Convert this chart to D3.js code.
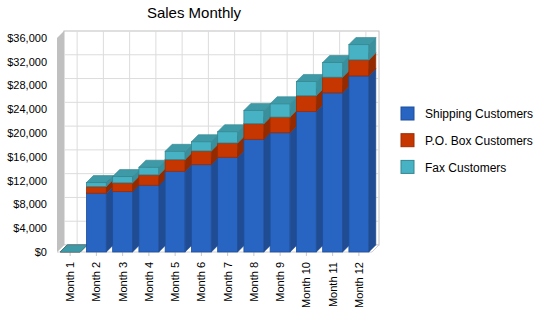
<!DOCTYPE html>
<html>
<head>
<meta charset="utf-8">
<script src="https://cdn.jsdelivr.net/npm/d3@7"></script>
<style>
  body { margin: 0; background: #fff; }
  text { font-family: "Liberation Sans", Arial, sans-serif; fill: #000; }
</style>
</head>
<body>
<svg id="chart" width="550" height="318"></svg>
<script>
// data
const months = ["Month 1", "Month 2", "Month 3", "Month 4", "Month 5", "Month 6",
  "Month 7", "Month 8", "Month 9", "Month 10", "Month 11", "Month 12"]
const shipping = [0, 9900, 10170, 11240, 13590, 14700, 15940, 18960, 20070, 23660, 26780, 29630]
const poBox = [0, 1100, 1460, 1730, 1950, 2300, 2400, 2620, 2630, 2620, 2630, 2690]
const fax = [0, 680, 1060, 1290, 1400, 1560, 1900, 2240, 2240, 2410, 2470, 2580]
const seriesNames = ["Shipping Customers", "P.O. Box Customers", "Fax Customers"]
const yTicks = [0, 4000, 8000, 12000, 16000, 20000, 24000, 28000, 32000, 36000]

const colors = [
  { front: "#2864c2", side: "#1f4c93", top: "#2a5cab", stroke: "#1d4f9c" },
  { front: "#c63600", side: "#942a00", top: "#b03000", stroke: "#a02c00" },
  { front: "#47b2c4", side: "#3a8f9c", top: "#3f9aa8", stroke: "#33868f" }
]

const svg = d3.select("#chart")
const dx = 7, dy = -7  // depth of the 3d effect

const x = d3.scaleBand()
  .domain(months)
  .range([57, 372])
  .paddingInner(0.24)
  .paddingOuter(0.12)

const y = d3.scaleLinear()
  .domain([0, 36000])
  .range([252, 38])

const x0 = 57, x1 = 372, yb = y(0), yt = y(36000)

// back wall
svg.append("rect")
  .attr("x", x0 + dx).attr("y", yt + dy)
  .attr("width", x1 - x0).attr("height", yb - yt)
  .attr("fill", "#fff")
  .attr("stroke", "#c0c0c0")

// horizontal grid on back wall
svg.append("g").selectAll("line")
  .data(yTicks.slice(1, -1))
  .join("line")
  .attr("x1", x0 + dx).attr("x2", x1 + dx)
  .attr("y1", d => y(d) + dy).attr("y2", d => y(d) + dy)
  .attr("stroke", "#dcdcdc")

// vertical grid on back wall
svg.append("g").selectAll("line")
  .data(months)
  .join("line")
  .attr("x1", d => x(d) + x.bandwidth() / 2 + dx)
  .attr("x2", d => x(d) + x.bandwidth() / 2 + dx)
  .attr("y1", yt + dy).attr("y2", yb + dy)
  .attr("stroke", "#dcdcdc")

// left wall
svg.append("path")
  .attr("d", `M${x0},${yt} L${x0 + dx},${yt + dy} L${x0 + dx},${yb + dy} L${x0},${yb} Z`)
  .attr("fill", "#c0c0c0")

// floor
svg.append("path")
  .attr("d", `M${x0},${yb} L${x1},${yb} L${x1 + dx},${yb + dy} L${x0 + dx},${yb + dy} Z`)
  .attr("fill", "#fff")
  .attr("stroke", "#d0d0d0")

// tick marks under the floor
svg.append("g").selectAll("line")
  .data(months)
  .join("line")
  .attr("x1", d => x(d) + x.bandwidth() / 2)
  .attr("x2", d => x(d) + x.bandwidth() / 2)
  .attr("y1", yb).attr("y2", yb + 4)
  .attr("stroke", "#c8c8c8")

// stacked data
const table = months.map((m, i) => ({ month: m, s0: shipping[i], s1: poBox[i], s2: fax[i] }))
const stack = d3.stack().keys(["s0", "s1", "s2"])(table)

const bars = svg.append("g")
months.forEach((m, i) => {
  const bx0 = x(m), bx1 = x(m) + x.bandwidth()
  stack.forEach((layer, k) => {
    const c = colors[k]
    const ya = y(layer[i][0]), yz = y(layer[i][1])
    const g = bars.append("g")
    // front face
    g.append("rect")
      .attr("x", bx0).attr("y", yz)
      .attr("width", bx1 - bx0).attr("height", ya - yz)
      .attr("fill", c.front)
      .attr("stroke", c.stroke).attr("stroke-width", 0.8)
    // side face
    g.append("path")
      .attr("d", `M${bx1},${yz} L${bx1 + dx},${yz + dy} L${bx1 + dx},${ya + dy} L${bx1},${ya} Z`)
      .attr("fill", c.side)
      .attr("stroke", c.side).attr("stroke-width", 0.5)
    // top face
    g.append("path")
      .attr("d", `M${bx0},${yz} L${bx1},${yz} L${bx1 + dx},${yz + dy} L${bx0 + dx},${yz + dy} Z`)
      .attr("fill", c.top)
      .attr("stroke", c.stroke).attr("stroke-width", 0.6)
  })
})

// y axis labels
svg.append("g").selectAll("text")
  .data(yTicks)
  .join("text")
  .attr("x", 47)
  .attr("y", d => y(d))
  .attr("dy", "0.35em")
  .attr("text-anchor", "end")
  .style("font-size", "11px")
  .text(d => "$" + d3.format(",")(d))

// x axis labels, rotated
svg.append("g").selectAll("text")
  .data(months)
  .join("text")
  .attr("transform", d => `translate(${x(d) + x.bandwidth() / 2 + 4},262) rotate(-90)`)
  .attr("text-anchor", "end")
  .style("font-size", "11px")
  .text(d => d)

// title
svg.append("text")
  .attr("x", 194).attr("y", 18)
  .attr("text-anchor", "middle")
  .style("font-size", "15px")
  .text("Sales Monthly")

// legend
const legend = svg.append("g").attr("transform", "translate(401,107)")
seriesNames.forEach((name, k) => {
  const row = legend.append("g").attr("transform", `translate(0,${k * 26.7})`)
  row.append("rect")
    .attr("width", 13).attr("height", 13)
    .attr("fill", colors[k].front)
    .attr("stroke", colors[k].stroke)
  row.append("text")
    .attr("x", 24).attr("y", 7)
    .attr("dy", "0.35em")
    .style("font-size", "12px")
    .text(name)
})
</script>
</body>
</html>
